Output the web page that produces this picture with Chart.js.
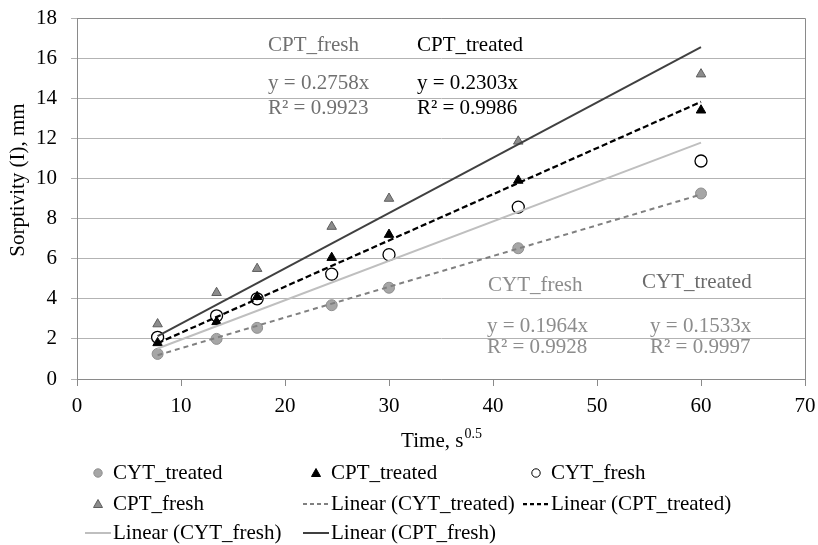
<!DOCTYPE html>
<html>
<head>
<meta charset="utf-8">
<script src="https://cdn.jsdelivr.net/npm/chart.js@4.4.0/dist/chart.umd.min.js"></script>
<style>
  html, body { margin: 0; padding: 0; background: #fff; }
  #wrap { width: 818px; height: 545px; }
</style>
</head>
<body>
<div id="wrap"><canvas id="grafico" width="818" height="545"></canvas></div>
<script>
// tiempos (s^0.5) y valores
const tiempos = [7.75, 13.42, 17.32, 24.49, 30, 42.43, 60];
const cytTreated = [1.25, 2.0, 2.55, 3.68, 4.55, 6.52, 9.25];
const cptTreated = [1.8, 2.85, 4.1, 6.05, 7.2, 9.9, 13.4];
const cytFresh = [2.08, 3.15, 4.0, 5.23, 6.2, 8.57, 10.87];
const cptFresh = [2.74, 4.3, 5.5, 7.6, 9.0, 11.85, 15.2];

// pendientes de las lineas de tendencia (y = m x)
const pendientes = { cytTreated: 0.1533, cptTreated: 0.2303, cytFresh: 0.1964, cptFresh: 0.2758 };
const r2 = { cytTreated: "0.9997", cptTreated: "0.9986", cytFresh: "0.9928", cptFresh: "0.9923" };

const ticksX = [0, 10, 20, 30, 40, 50, 60, 70];
const ticksY = [0, 2, 4, 6, 8, 10, 12, 14, 16, 18];

const FUENTE = '"Liberation Serif", "Times New Roman", serif';

function puntos(valores) {
    return tiempos.map((t, i) => ({ x: t, y: valores[i] }));
}
function tendencia(m) {
    const x0 = tiempos[0], x1 = tiempos[tiempos.length - 1];
    return [{ x: x0, y: m * x0 }, { x: x1, y: m * x1 }];
}

// textos de las ecuaciones (posicion en unidades de los ejes)
const anotaciones = [
    { t: "CPT_fresh", x: 18.37, y: 16.65, c: "#707070" },
    { t: "y = 0.2758x", x: 18.37, y: 14.71, c: "#707070" },
    { t: "R² = " + r2.cptFresh, x: 18.37, y: 13.51, c: "#707070" },
    { t: "CPT_treated", x: 32.69, y: 16.65, c: "#000" },
    { t: "y = 0.2303x", x: 32.69, y: 14.71, c: "#000" },
    { t: "R² = " + r2.cptTreated, x: 32.69, y: 13.51, c: "#000" },
    { t: "CYT_fresh", x: 39.52, y: 4.64, c: "#8c8c8c" },
    { t: "y = 0.1964x", x: 39.42, y: 2.64, c: "#8c8c8c" },
    { t: "R² = " + r2.cytFresh, x: 39.42, y: 1.55, c: "#8c8c8c" },
    { t: "CYT_treated", x: 54.33, y: 4.79, c: "#6b6b6b" },
    { t: "y = 0.1533x", x: 55.1, y: 2.64, c: "#8c8c8c" },
    { t: "R² = " + r2.cytTreated, x: 55.1, y: 1.55, c: "#8c8c8c" },
];

const datasets = [
    { label: "CYT_treated", data: puntos(cytTreated), pointStyle: "circle", pointRadius: 5.5,
      backgroundColor: "#a6a6a6", borderColor: "#8f8f8f", pointBorderWidth: 1, showLine: false, order: 1 },
    { label: "CPT_treated", data: puntos(cptTreated), pointStyle: "triangle", pointRadius: 5.5,
      backgroundColor: "#000", borderColor: "#000", pointBorderWidth: 1, showLine: false, order: 1 },
    { label: "CYT_fresh", data: puntos(cytFresh), pointStyle: "circle", pointRadius: 6,
      backgroundColor: "#fff", borderColor: "#000", pointBorderWidth: 1.3, showLine: false, order: 1 },
    { label: "CPT_fresh", data: puntos(cptFresh), pointStyle: "triangle", pointRadius: 5.5,
      backgroundColor: "#8c8c8c", borderColor: "#5e5e5e", pointBorderWidth: 1, showLine: false, order: 1 },
    { label: "Linear (CYT_treated)", data: tendencia(pendientes.cytTreated), showLine: true, pointRadius: 0,
      borderColor: "#808080", borderWidth: 2, borderDash: [5, 4], order: 0 },
    { label: "Linear (CPT_treated)", data: tendencia(pendientes.cptTreated), showLine: true, pointRadius: 0,
      borderColor: "#000", borderWidth: 2.25, borderDash: [6, 3], order: 0 },
    { label: "Linear (CYT_fresh)", data: tendencia(pendientes.cytFresh), showLine: true, pointRadius: 0,
      borderColor: "#bfbfbf", borderWidth: 2, order: 0 },
    { label: "Linear (CPT_fresh)", data: tendencia(pendientes.cptFresh), showLine: true, pointRadius: 0,
      borderColor: "#404040", borderWidth: 2, order: 0 },
];

// plugin: textos, titulos de ejes, borde y leyenda en 3 columnas
const extras = {
    id: "extras",
    afterDraw(chart) {
        const ctx = chart.ctx;
        const area = chart.chartArea;
        const sx = chart.scales.x, sy = chart.scales.y;
        ctx.save();
        // borde del area
        ctx.strokeStyle = "#8a8a8a";
        ctx.lineWidth = 1;
        ctx.beginPath();
        ctx.moveTo(area.left, area.top + 0.5);
        ctx.lineTo(area.right + 0.5, area.top + 0.5);
        ctx.lineTo(area.right + 0.5, area.bottom);
        ctx.stroke();

        ctx.font = "21px " + FUENTE;
        ctx.textBaseline = "middle";
        ctx.textAlign = "left";
        anotaciones.forEach(a => {
            ctx.fillStyle = a.c;
            ctx.fillText(a.t, sx.getPixelForValue(a.x), sy.getPixelForValue(a.y));
        });

        // titulo eje x con superindice
        ctx.fillStyle = "#000";
        ctx.textBaseline = "alphabetic";
        const base = "Time, s";
        const sup = "0.5";
        ctx.font = "21px " + FUENTE;
        const wBase = ctx.measureText(base).width;
        ctx.font = "14px " + FUENTE;
        const wSup = ctx.measureText(sup).width;
        const cx = (area.left + area.right) / 2;
        const x0 = cx - (wBase + wSup) / 2;
        ctx.font = "21px " + FUENTE;
        ctx.fillText(base, x0, 447);
        ctx.font = "14px " + FUENTE;
        ctx.fillText(sup, x0 + wBase + 1, 438);

        // titulo eje y
        ctx.save();
        ctx.translate(18, 180);
        ctx.rotate(-Math.PI / 2);
        ctx.font = "21px " + FUENTE;
        ctx.textAlign = "center";
        ctx.textBaseline = "middle";
        ctx.fillText("Sorptivity (I), mm", 0, 0);
        ctx.restore();

        // leyenda
        const cols = [85, 303, 523];
        const filas = [473, 504, 533];
        const orden = [[0, 0, 0], [1, 0, 1], [2, 0, 2], [3, 1, 0], [4, 1, 1], [5, 1, 2], [6, 2, 0], [7, 2, 1]];
        ctx.font = "21px " + FUENTE;
        ctx.textAlign = "left";
        ctx.textBaseline = "middle";
        orden.forEach(([i, f, c]) => {
            const ds = chart.data.datasets[i];
            const x = cols[c], y = filas[f];
            if (ds.showLine) {
                ctx.save();
                ctx.strokeStyle = ds.borderColor;
                ctx.lineWidth = ds.borderWidth;
                ctx.setLineDash(ds.borderDash ? [4, 3] : []);
                ctx.beginPath();
                ctx.moveTo(x, y);
                ctx.lineTo(x + 26, y);
                ctx.stroke();
                ctx.restore();
            } else {
                ctx.fillStyle = ds.backgroundColor;
                ctx.strokeStyle = ds.borderColor;
                ctx.lineWidth = 1;
                ctx.beginPath();
                if (ds.pointStyle === "circle") {
                    ctx.arc(x + 13, y, 4.2, 0, Math.PI * 2);
                } else {
                    ctx.moveTo(x + 13, y - 4.5);
                    ctx.lineTo(x + 17.5, y + 3.5);
                    ctx.lineTo(x + 8.5, y + 3.5);
                    ctx.closePath();
                }
                ctx.fill();
                ctx.stroke();
            }
            ctx.fillStyle = "#000";
            ctx.fillText(ds.label, x + 28, y);
        });
        ctx.restore();
    }
};

new Chart(document.getElementById("grafico"), {
    type: "scatter",
    data: { datasets: datasets },
    options: {
        responsive: false,
        animation: false,
        layout: { padding: { left: 0, top: 18, right: 13, bottom: 96 } },
        plugins: { legend: { display: false }, tooltip: { enabled: false } },
        scales: {
            x: {
                type: "linear", min: 0, max: 70,
                afterBuildTicks: s => { s.ticks = ticksX.map(v => ({ value: v })); },
                afterFit: s => { s.height = 70; s.paddingLeft = 0; s.paddingRight = 0; },
                grid: { drawOnChartArea: false, drawTicks: true, tickLength: 7, color: "#8a8a8a" },
                border: { color: "#8a8a8a", width: 1 },
                ticks: { color: "#000", font: { family: FUENTE, size: 21 }, padding: 8, maxRotation: 0 }
            },
            y: {
                type: "linear", min: 0, max: 18,
                afterBuildTicks: s => { s.ticks = ticksY.map(v => ({ value: v })); },
                afterFit: s => { s.width = 77; s.paddingTop = 0; s.paddingBottom = 0; },
                grid: { color: "#b3b3b3", tickLength: 6, drawTicks: true },
                border: { color: "#8a8a8a", width: 1 },
                ticks: { color: "#000", font: { family: FUENTE, size: 21 }, padding: 14 }
            }
        }
    },
    plugins: [extras]
});
</script>
</body>
</html>
